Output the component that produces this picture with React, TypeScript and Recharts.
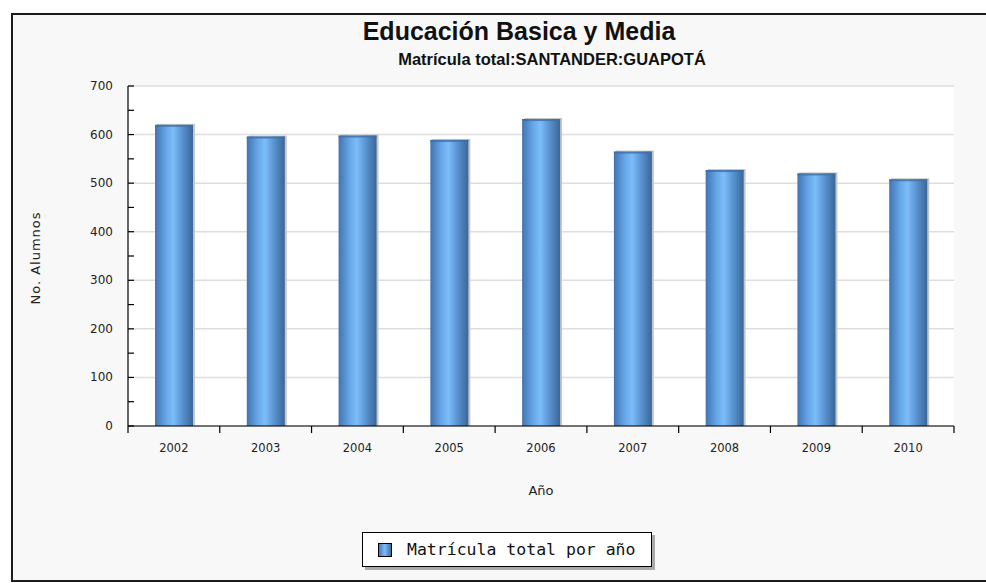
import React from "react";
import { Bar, BarChart, CartesianGrid, XAxis, YAxis } from "recharts";

const years = ["2002", "2003", "2004", "2005", "2006", "2007", "2008", "2009", "2010"];
const enrollment = [620, 596, 598, 589, 632, 565, 527, 520, 508];
const majorTicks = [0, 100, 200, 300, 400, 500, 600, 700];
const minorTicks = [50, 150, 250, 350, 450, 550, 650];

const data = years.map((year, i) => ({ year, total: enrollment[i] }));
const allYTicks = [...majorTicks, ...minorTicks].sort((a, b) => a - b);

const W = 986;
const H = 583;
const MARGIN = { top: 86, right: 32, left: 68, bottom: 127 };
const Y_GAP = 15; // label gap from y axis line
const X_GAP = 2;

const YTick = (props: any) => {
  const { x, y, payload } = props;
  const v = payload.value as number;
  const major = v % 100 === 0;
  const ax = x + Y_GAP;
  return (
    <g>
      <line x1={ax} x2={ax + 6} y1={y} y2={y} stroke="#000" strokeWidth={1.2} />
      {major && (
        <text
          x={x}
          y={y}
          dy={4}
          textAnchor="end"
          fontSize={12}
          fontFamily="DejaVu Sans, sans-serif"
          fill="#222"
        >
          {v}
        </text>
      )}
    </g>
  );
};

// category label at band centre, tick marks at band edges
const XTick = (props: any) => {
  const { x, y, payload, index, visibleTicksCount } = props;
  const axisW = Number(props.width) || W - MARGIN.left - 60 - MARGIN.right;
  const half = axisW / (visibleTicksCount || years.length) / 2;
  const ay = y - X_GAP;
  return (
    <g>
      {index === 0 && (
        <line x1={x - half} x2={x - half} y1={ay} y2={ay + 7} stroke="#000" strokeWidth={1.2} />
      )}
      <line x1={x + half} x2={x + half} y1={ay} y2={ay + 7} stroke="#000" strokeWidth={1.2} />
      <text
        x={x}
        y={y}
        dy={24}
        textAnchor="middle"
        fontSize={11.5}
        fontFamily="DejaVu Sans, sans-serif"
        fill="#222"
      >
        {payload.value}
      </text>
    </g>
  );
};

const CylBar = (props: any) => {
  const { x, y, width, height } = props;
  if (!height || height <= 0) return null;
  return (
    <g>
      <rect x={x + 2} y={y - 1} width={width} height={height + 1} fill="#c6c6c6" />
      <rect x={x} y={y} width={width} height={height} fill="url(#barGrad)" />
      <rect x={x} y={y} width={width} height={2} fill="#3f6ea6" opacity={0.8} />
    </g>
  );
};

export default function App() {
  return (
    <div
      style={{
        position: "absolute",
        left: 0,
        top: 0,
        width: W,
        height: H,
        overflow: "hidden",
        background: "#fff",
        fontFamily: "Liberation Sans, Arial, sans-serif",
      }}
    >
      <div
        style={{
          position: "absolute",
          left: 11,
          top: 13,
          width: 990,
          height: 569,
          boxSizing: "border-box",
          border: "2px solid #1c1c1c",
          background: "#f8f8f8",
        }}
      />

      <div
        style={{
          position: "absolute",
          left: 519,
          top: 31,
          transform: "translate(-50%, -50%)",
          fontSize: 25,
          fontWeight: "bold",
          color: "#111",
          whiteSpace: "nowrap",
          lineHeight: 1,
        }}
      >
        Educación Basica y Media
      </div>
      <div
        style={{
          position: "absolute",
          left: 552,
          top: 59,
          transform: "translate(-50%, -50%)",
          fontSize: 16.5,
          fontWeight: "bold",
          color: "#111",
          whiteSpace: "nowrap",
          lineHeight: 1,
        }}
      >
        Matrícula total:SANTANDER:GUAPOTÁ
      </div>

      <div style={{ position: "absolute", left: 0, top: 0 }}>
        <BarChart width={W} height={H} data={data} margin={MARGIN} barSize={38}>
          <defs>
            <linearGradient id="barGrad" x1="0" y1="0" x2="1" y2="0">
              <stop offset="0%" stopColor="#4174b1" />
              <stop offset="30%" stopColor="#68a8ea" />
              <stop offset="48%" stopColor="#7cbdf9" />
              <stop offset="70%" stopColor="#5b96d4" />
              <stop offset="100%" stopColor="#3a6698" />
            </linearGradient>
          </defs>
          <CartesianGrid
            vertical={false}
            horizontalValues={majorTicks}
            stroke="#dedede"
            strokeWidth={1.5}
            fill="#fff"
          />
          <XAxis
            dataKey="year"
            height={30}
            stroke="#000"
            strokeWidth={1.2}
            tickLine={false}
            tickSize={0}
            tickMargin={X_GAP}
            tick={<XTick />}
            interval={0}
          />
          <YAxis
            domain={[0, 700]}
            ticks={allYTicks}
            width={60}
            tickSize={0}
            tickMargin={Y_GAP}
            tickLine={false}
            tick={<YTick />}
            stroke="#000"
            strokeWidth={1.2}
            interval={0}
          />
          <Bar
            dataKey="total"
            name="Matrícula total por año"
            shape={<CylBar />}
            isAnimationActive={false}
          />
        </BarChart>
      </div>

      <div
        style={{
          position: "absolute",
          left: 35,
          top: 258,
          transform: "translate(-50%, -50%) rotate(-90deg)",
          fontSize: 13,
          letterSpacing: 1,
          fontFamily: "DejaVu Sans, sans-serif",
          color: "#222",
          whiteSpace: "nowrap",
        }}
      >
        No. Alumnos
      </div>
      <div
        style={{
          position: "absolute",
          left: 541,
          top: 490,
          transform: "translate(-50%, -50%)",
          fontSize: 13,
          fontFamily: "DejaVu Sans, sans-serif",
          color: "#222",
        }}
      >
        Año
      </div>

      <div
        style={{
          position: "absolute",
          left: 362,
          top: 532,
          width: 290,
          height: 35,
          boxSizing: "border-box",
          border: "1px solid #000",
          background: "#fff",
          boxShadow: "3px 3px 0 #aaa",
          display: "flex",
          alignItems: "center",
        }}
      >
        <svg width={14} height={14} style={{ marginLeft: 15 }}>
          <defs>
            <linearGradient id="legGrad" x1="0" y1="0" x2="1" y2="0">
              <stop offset="0%" stopColor="#4174b1" />
              <stop offset="48%" stopColor="#7cbdf9" />
              <stop offset="100%" stopColor="#3a6698" />
            </linearGradient>
          </defs>
          <rect x={0.5} y={0.5} width={13} height={13} fill="url(#legGrad)" stroke="#000" />
        </svg>
        <span
          style={{
            marginLeft: 15,
            fontFamily: "DejaVu Sans Mono, monospace",
            fontSize: 16.5,
            color: "#111",
          }}
        >
          Matrícula total por año
        </span>
      </div>
    </div>
  );
}
